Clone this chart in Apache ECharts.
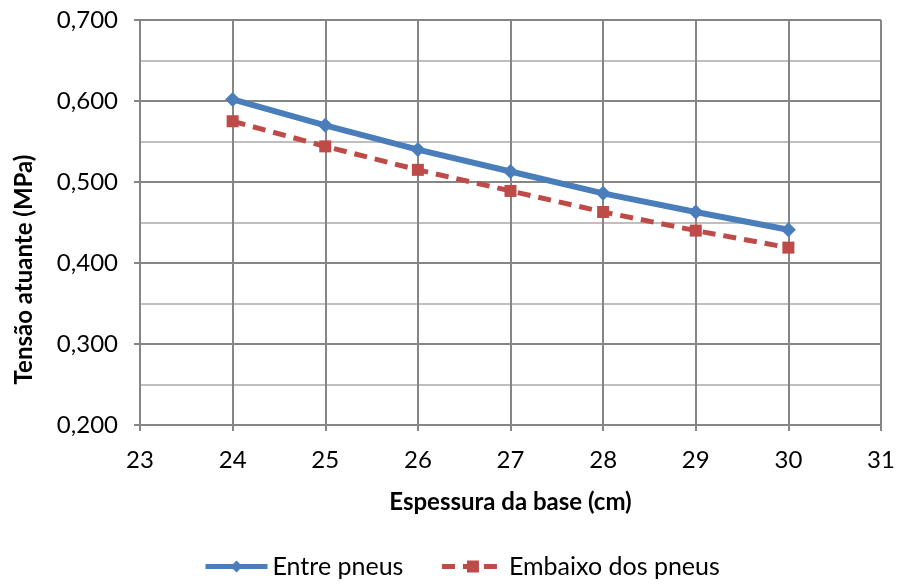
<!DOCTYPE html>
<html>
<head>
<meta charset="utf-8">
<script src="https://cdn.jsdelivr.net/npm/echarts@6/dist/echarts.min.js"></script>
<style>
  html, body { margin: 0; padding: 0; background: #fff; }
  #chart { width: 898px; height: 587px; }
</style>
</head>
<body>
<div id="chart"></div>
<script>
// dados
let espessura = [24, 25, 26, 27, 28, 29, 30]
let entrePneus = [0.602, 0.570, 0.540, 0.513, 0.486, 0.463, 0.441]
let embaixoPneus = [0.575, 0.544, 0.515, 0.489, 0.463, 0.440, 0.419]

let fonte = 'Lato, "Open Sans", sans-serif'
let corGrade = '#868686'
let azul = '#4A7EBB'
let vermelho = '#BE4B48'

let chart = echarts.init(document.getElementById('chart'))

function pares(vals) {
  return espessura.map((x, i) => [x, vals[i]])
}

let option = {
  animation: false,
  textStyle: { fontFamily: fonte },
  grid: { left: 140, right: 17, top: 20, bottom: 162 },
  legend: {
    bottom: 3,
    left: 198,
    itemWidth: 62,
    itemHeight: 15,
    itemGap: 36,
    textStyle: { fontSize: 25, color: '#000', fontFamily: fonte },
    data: [
      { name: 'Entre pneus', lineStyle: { width: 5 } },
      { name: 'Embaixo dos pneus', lineStyle: { width: 5 } },
    ],
  },
  xAxis: {
    type: 'value',
    min: 23,
    max: 31,
    interval: 1,
    name: 'Espessura da base (cm)',
    nameLocation: 'middle',
    nameGap: 65,
    nameTextStyle: { fontSize: 24, fontWeight: 'bold', color: '#000', fontFamily: fonte },
    axisLine: { show: true, lineStyle: { color: corGrade, width: 2 } },
    axisTick: { show: true, length: 6, lineStyle: { color: corGrade, width: 2 } },
    axisLabel: { fontSize: 24, color: '#000', margin: 23, fontFamily: fonte },
    splitLine: { show: true, lineStyle: { color: corGrade, width: 2 } },
  },
  yAxis: {
    type: 'value',
    min: 0.2,
    max: 0.7,
    interval: 0.1,
    name: 'Tensão atuante (MPa)',
    nameLocation: 'middle',
    nameGap: 104,
    nameTextStyle: {
      fontSize: 24,
      fontWeight: 'bold',
      color: '#000',
      fontFamily: fonte,
      padding: [0, 94, 0, 0], // o título fica um pouco abaixo do centro
    },
    axisLine: { show: true, lineStyle: { color: corGrade, width: 2 } },
    axisTick: { show: true, length: 6, lineStyle: { color: corGrade, width: 2 } },
    axisLabel: {
      fontSize: 24,
      color: '#000',
      margin: 22,
      fontFamily: fonte,
      formatter: (v) => v.toFixed(3).replace('.', ','),
    },
    splitLine: { show: true, lineStyle: { color: corGrade, width: 2 } },
    minorTick: { show: false, splitNumber: 2 },
    minorSplitLine: { show: true, lineStyle: { color: '#BFBFBF', width: 2 } },
  },
  series: [
    {
      name: 'Entre pneus',
      type: 'line',
      data: pares(entrePneus),
      symbol: 'diamond',
      symbolSize: 15,
      color: azul,
      lineStyle: { color: azul, width: 6 },
      itemStyle: { color: azul },
      z: 3,
    },
    {
      name: 'Embaixo dos pneus',
      type: 'line',
      data: pares(embaixoPneus),
      symbol: 'rect',
      symbolSize: 12,
      color: vermelho,
      lineStyle: { color: vermelho, width: 5, type: [13, 8] },
      itemStyle: { color: vermelho },
      z: 2,
    },
  ],
}

chart.setOption(option)
</script>
</body>
</html>
